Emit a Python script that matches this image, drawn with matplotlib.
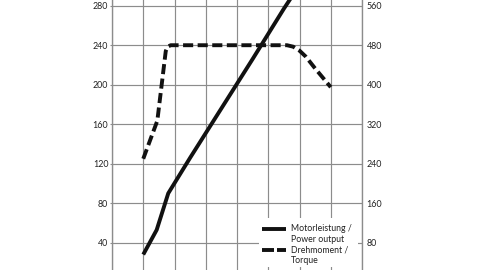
import matplotlib
matplotlib.use("Agg")
import matplotlib.pyplot as plt
from matplotlib.lines import Line2D
from matplotlib.patches import Rectangle

plt.rcParams['font.family'] = ['Lato', 'DejaVu Sans']

# Data (rpm, power kW, torque Nm)
power_rpm = [1000, 1430, 1800, 2500, 3500, 4500, 5500, 5750]
power_kw = [28, 53, 90, 126, 176, 226, 277, 289]

torque_rpm = [1000, 1450, 1720, 1780, 1880, 3000, 4000, 5000, 5600, 5800, 6000, 6200, 6500, 7000]
torque_nm = [250, 327, 468, 477, 480, 480, 480, 480, 480, 477, 469, 457, 433, 395]

left_ticks = [40, 80, 120, 160, 200, 240, 280]
right_ticks = [80, 160, 240, 320, 400, 480, 560]
rpm_grid = [0, 1000, 2000, 3000, 4000, 5000, 6000, 7000, 8000]

label_power = ["Motorleistung /", "Power output"]
label_torque = ["Drehmoment /", "Torque"]

W, H = 480, 270
fig = plt.figure(figsize=(W / 100, H / 100), dpi=100)
ax = fig.add_axes([112 / W, 0, 250 / W, 1])
ax2 = ax.twinx()

gc = '#8c8c8c'
tc = '#222222'
ylo, yhi = 12.35, 285.8
ax.set_xlim(0, 8000)
ax.set_ylim(ylo, yhi)
ax2.set_ylim(2 * ylo, 2 * yhi)

ax.set_xticks(rpm_grid)
ax.set_xticklabels([])
ax.tick_params(axis='x', length=0)
ax.set_yticks(left_ticks)
ax.tick_params(axis='y', length=1.5, width=0.8, color=gc, pad=1.2, labelsize=6.4, labelcolor=tc)
ax2.set_yticks(right_ticks)
ax2.tick_params(axis='y', length=0, pad=3.4, labelsize=6.4, labelcolor=tc)

ax.grid(True, color=gc, lw=0.85)
ax.set_axisbelow(True)
for a in (ax, ax2):
    for s in ('top', 'bottom'):
        a.spines[s].set_visible(False)
    for s in ('left', 'right'):
        a.spines[s].set_color(gc)
        a.spines[s].set_linewidth(0.85)

ax.plot(power_rpm, power_kw, color='#111111', lw=2.8, solid_capstyle='butt', solid_joinstyle='round', zorder=3)
ax2.plot(torque_rpm, torque_nm, color='#111111', lw=2.8, dashes=(2.6, 1.15), dash_capstyle='butt', zorder=3)

# Legend (drawn manually in figure pixel coordinates)
def fx(px):
    return px / W

def fy(py):
    return 1 - py / H

fig.patches.append(Rectangle((fx(259), fy(267)), fx(358) - fx(259), fy(218) - fy(267),
                             transform=fig.transFigure, facecolor='white', edgecolor='none', zorder=5))
fig.lines.append(Line2D([fx(261.7), fx(285.5)], [fy(228.5), fy(228.5)], transform=fig.transFigure,
                        color='#111111', lw=2.8, solid_capstyle='butt', zorder=6))
fig.lines.append(Line2D([fx(261.7), fx(274)], [fy(250), fy(250)], transform=fig.transFigure,
                        color='#111111', lw=2.8, solid_capstyle='butt', zorder=6))
fig.lines.append(Line2D([fx(277), fx(285.5)], [fy(250), fy(250)], transform=fig.transFigure,
                        color='#111111', lw=2.8, solid_capstyle='butt', zorder=6))
for txt, py in zip(label_power + label_torque, [228.5, 239.5, 250, 260.5]):
    fig.text(fx(291), fy(py), txt, ha='left', va='center', fontsize=6.3, color=tc, zorder=7)

fig.savefig('out.png', dpi=100, facecolor='white')
